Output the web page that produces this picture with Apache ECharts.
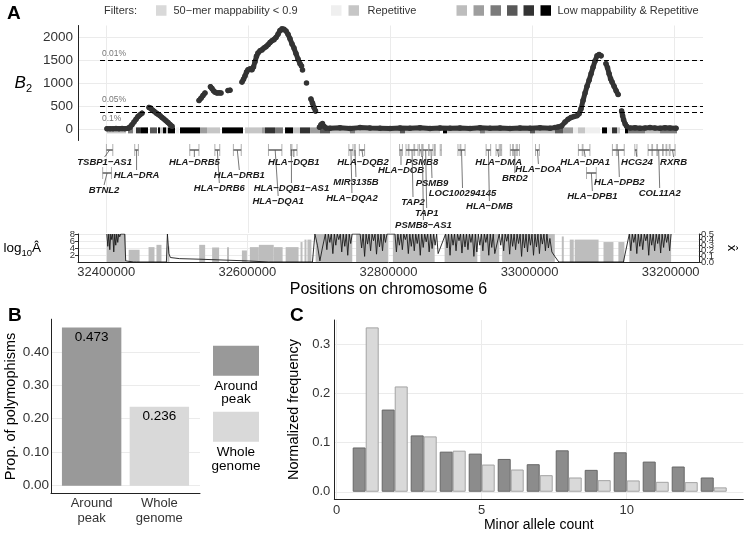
<!DOCTYPE html>
<html><head><meta charset="utf-8">
<script src="https://cdn.jsdelivr.net/npm/echarts@6/dist/echarts.min.js"></script>
<style>html,body{margin:0;padding:0;background:#fff}#c{width:746px;height:533px}</style>
</head><body><div id="c"></div>
<script>
// ---------------- data ----------------
const posTicks = [32400000, 32600000, 32800000, 33000000, 33200000];
const b2Ticks = [0, 500, 1000, 1500, 2000];
const thresholdValues = [1500, 500, 360];
const thresholdLabels = ['0.01%', '0.05%', '0.1%'];
// B2 statistic along chromosome 6 ('-' marks a gap between runs of points)
const b2Points = [
 [32400800,5],[32405100,8],[32409300,3],[32413500,10],[32417700,6],[32422000,12],[32426200,8],[32430400,15],[32433200,30],[32436000,90],[32438800,150],[32441700,210],[32444500,270],[32447300,310],[32450100,345],[32455000,'-'],
 [32460000,470],[32462100,455],[32464300,420],[32467100,385],[32469900,350],[32472600,320],[32475500,290],[32478300,250],[32481100,215],[32483900,180],[32486700,140],[32489500,100],[32492400,60],[32500000,'-'],
 [32530400,620],[32533200,670],[32536000,730],[32538800,780],[32542000,'-'],
 [32546500,920],[32548700,880],[32550800,830],[32552900,800],[32555700,780],[32558500,790],[32561300,780],[32565000,'-'],
 [32571200,835],[32574000,845],[32580000,'-'],
 [32590900,1020],[32593000,1080],[32595100,1150],[32597300,1240],[32599400,1290],[32602200,1310],[32605000,1290],[32607100,1350],[32609200,1460],[32611300,1580],[32613400,1650],[32616300,1700],[32619100,1720],[32621900,1760],[32624700,1790],[32627500,1830],[32630300,1880],[32633200,1920],[32636000,1940],[32638800,1990],[32641600,2060],[32644400,2140],[32647200,2180],[32650000,2170],[32652900,2130],[32655700,2060],[32658500,1960],[32661300,1850],[32664100,1760],[32666900,1640],[32669800,1520],[32672600,1420],[32674700,1370],[32675400,'-'],
 [32676100,1280],[32679000,'-'],
 [32681700,1000],[32685000,'-'],
 [32688000,650],[32690200,560],[32692300,470],[32694400,390],[32697000,'-'],
 [32700000,40],[32702100,90],[32704200,120],[32706300,60],[32709200,20],[32714800,15],[32728900,25],[32743000,10],[32757100,30],[32771100,20],[32785200,15],[32799300,10],[32813400,20],[32827400,15],[32841500,25],[32855600,10],[32869700,20],[32883800,15],[32897800,20],[32911900,10],[32926000,25],[32940100,15],[32954200,20],[32968200,10],[32982300,20],[32996400,15],[33010500,25],[33024600,15],[33031600,30],[33035800,45],[33040800,65],[33045700,150],[33050000,210],[33054200,250],[33058400,270],[33062600,290],[33065500,330],[33068300,440],[33071100,620],[33073900,780],[33076700,930],[33079600,1060],[33082400,1200],[33085200,1340],[33088000,1480],[33090800,1590],[33093700,1620],[33096500,1590],[33100000,'-'],
 [33103400,1420],[33105600,1330],[33107800,1200],[33109900,1090],[33112000,1020],[33114800,930],[33117700,830],[33120500,750],[33123000,'-'],
 [33125400,390],[33126800,290],[33128200,200],[33130400,110],[33132500,60],[33135000,'-'],
 [33137200,20],[33144300,25],[33151300,15],[33158300,20],[33165400,30],[33172400,20],[33179500,15],[33186500,25],[33193500,20],[33202000,15]
];
// filter mask below the B2 track: [start, end, filter class]
const filterBand = [
 [32400800,32427600,2],[32430400,32437400,5],[32437400,32441700,1],[32441700,32448700,7],[32448700,32458600,8],
 [32461400,32471200,6],[32472600,32475500,8],[32475500,32479700,2],[32479700,32483900,8],[32483900,32486700,3],
 [32486700,32496600,8],[32497900,32502200,1],[32503600,32531800,8],[32531800,32541600,4],[32541600,32560000,2],
 [32562800,32592300,8],[32595100,32619100,2],[32619100,32623300,4],[32623300,32637400,7],[32637400,32648600,5],
 [32651500,32662700,8],[32662700,32672600,2],[32672600,32686700,7],[32686700,32700700,4],[32700700,32714800,6],
 [32714800,32743000,2],[32743000,32750000,5],[32750000,32785200,2],[32785200,32813400,3],[32813400,32820400,6],
 [32820400,32869700,2],[32873900,32879600,8],[32879600,32926000,2],[32926000,32933000,5],[32933000,32996400,3],
 [32996400,33003500,6],[33003500,33031600,3],[33031600,33042900,6],[33042900,33057000,4],[33057000,33064000,1],
 [33064000,33073900,2],[33073900,33095000,1],[33097800,33104800,8],[33104800,33111900,1],[33111900,33118900,7],
 [33118900,33123100,2],[33130200,33134400,8],[33134400,33158400,5],[33158400,33179500,3],[33179500,33203400,5]
];
const filterClassColors = ['#d9d9d9','#efefef','#c6c6c6','#bdbdbd','#9e9e9e','#7b7b7b','#585858','#333333','#000000'];
const filterLegendGroups = ['50\u2212mer mappability < 0.9', 'Repetitive', 'Low mappability & Repetitive'];

// genes
const geneNames = ['TSBP1\u2212AS1','BTNL2','HLA\u2212DRA','HLA\u2212DRB5','HLA\u2212DRB6','HLA\u2212DRB1','HLA\u2212DQA1','HLA\u2212DQB1','HLA\u2212DQB1\u2212AS1','HLA\u2212DQA2','MIR3135B','HLA\u2212DQB2','HLA\u2212DOB','TAP2','PSMB8','PSMB8\u2212AS1','TAP1','PSMB9','LOC100294145','HLA\u2212DMB','HLA\u2212DMA','BRD2','HLA\u2212DOA','HLA\u2212DPA1','HLA\u2212DPB1','HLA\u2212DPB2','HCG24','COL11A2','RXRB'];
const geneStart = [32400000,32394730,32439878,32517353,32552713,32578775,32628179,32659467,32659880,32741391,32749900,32756098,32812763,32821833,32840717,32844100,32845209,32854192,32895000,32934629,32948613,32968660,33004182,33064569,33075990,33112455,33144000,33162681,33193586];
const geneEnd   = [32409000,32407130,32445046,32530287,32559600,32589848,32647062,32668383,32661200,32747198,32750000,32763532,32816767,32838739,32844679,32845800,32853816,32859851,32905000,32941028,32953122,32981505,33009591,33080775,33089696,33129113,33147000,33192499,33200719];
const otherGenes = [[32825000,32826000],[32833000,32834000],[32862000,32863000],[32870000,32871500],[32898000,32899000],[32955000,32956500],[32972000,32973000],[32977000,32978500],[33070000,33071000],[33118000,33119500],[33168000,33169000],[33175000,33176000],[33183000,33184000],[33188000,33189000]];
// label layout (track row of the gene body, label offset below track top, horizontal nudge)
const geneRow    = [0,1,0,0,0,0,0,0,0,0,0,0,0,0,0,0,0,0,0,0,0,0,0,0,1,0,0,0,0];
const geneLabelY = [26,54,39,26,52,39,65,26,52,62,46,26,34,66,26,89,77,47,57,70,26,42,33,26,60,46,26,57,26];
const geneLabelDx= [-5,-3,0,0,2,2,3,0,0,1,1,1,0,1,1,1,1,1,1,1,1,0,1,1,1,1,1,1,1];

// log10 A-hat blocks [start, end, value] and x-hat line
const logATicks = [2, 4, 6, 8];
const logABlocks = [
 [32400800,32427600,8],[32431800,32447300,3.5],[32460000,32468400,4.25],[32471200,32478300,4.9],[32486700,32489500,4.45],
 [32531800,32540200,4.9],[32550100,32560000,4.15],[32571200,32574000,4.25],[32592300,32599400,3.3],[32603600,32616300,4.25],
 [32616300,32637400,4.9],[32637400,32650000,4.25],[32654300,32672600,4.25],[32675400,32678200,5.7],[32681000,32683800,6.4],
 [32685200,32690800,6.4],[32696800,32748700,8],[32754200,32799300,8],[32806300,32865500,8],[32879600,32926000,8],
 [32930200,32957000,8],[32961200,33035800,8],[33045700,33048500,7.3],[33057000,33062600,6.4],[33064000,33097800,6.4],
 [33104800,33118900,5.7],[33125900,33134400,5.7],[33141400,33200600,8]
];
const xhatTicks = [0, 0.1, 0.2, 0.3, 0.4, 0.5];
const xhatPoints = [
 [32400832,0.5],[32402240,0.28],[32403648,0.5],[32405056,0.22],[32406464,0.5],[32407872,0.4],[32409280,0.5],[32410688,0.18],[32412096,0.5],[32413504,0.3],[32414912,0.5],[32416320,0.35],[32417728,0.5],[32419136,0.45],[32420544,0.5],[32423360,0.5],[32426176,0.5],[32427584,0.02],[32429696,0],
 [32438848,0],[32440960,0.03],[32443072,0],[32485312,0],[32486720,0.5],[32488832,0.15],[32490944,0.08],[32503616,0.06],[32531776,0.05],[32599360,0.02],[32630336,0],[32692288,0],[32695808,0.5],[32699328,0.3],[32702848,0.02],[32706368,0.25],
 [32710600,0.5],[32712700,0.22],[32714800,0.5],[32716900,0.35],[32719000,0.5],[32721200,0.15],[32723300,0.5],[32725400,0.3],[32727500,0.5],[32729600,0.4],[32731700,0.5],[32733800,0.18],[32735900,0.5],[32738100,0.28],[32740200,0.5],[32742300,0.12],[32744400,0.5],[32746500,0.33],[32748600,0.5],
 [32759900,0.5],[32762000,0.25],[32764100,0.5],[32766200,0.1],[32768300,0.5],[32770400,0.32],[32772500,0.5],[32774700,0.2],[32776800,0.5],[32778900,0.38],[32781000,0.5],[32783100,0.14],[32785200,0.5],[32787300,0.27],[32789400,0.5],[32791600,0.2],[32793700,0.5],[32795800,0.35],[32797900,0.5],
 [32809200,0.5],[32811300,0.18],[32813400,0.5],[32815500,0.3],[32817600,0.5],[32819700,0.22],[32821800,0.5],[32824000,0.4],[32826100,0.5],[32828200,0.15],[32830300,0.5],[32832400,0.28],[32834500,0.5],[32836600,0.2],[32838700,0.5],[32840800,0.33],[32842900,0.5],[32845100,0.12],[32847200,0.5],[32849300,0.26],[32851400,0.5],[32853500,0.36],[32855600,0.5],[32857700,0.18],[32859800,0.5],[32861900,0.24],[32864100,0.5],[32866200,0.3],[32868300,0.5],[32870400,0.15],
 [32881000,0.5],[32883100,0.25],[32885200,0.5],[32887300,0.12],[32889400,0.5],[32891600,0.3],[32893700,0.5],[32895800,0.2],[32897900,0.5],[32900000,0.38],[32902100,0.5],[32904200,0.16],[32906300,0.5],[32908500,0.27],[32910600,0.5],[32912700,0.22],[32914800,0.5],[32916900,0.35],[32919000,0.5],[32921100,0.1],[32923200,0.5],[32925300,0.18],[32927400,0.5],[32929500,0.3],[32931700,0.5],[32933800,0.2],[32935900,0.5],[32938000,0.35],[32940100,0.5],[32942200,0.12],[32944300,0.5],[32946400,0.26],[32948500,0.5],[32950700,0.15],
 [32957000,0.5],[32959100,0.3],[32961200,0.5],[32963300,0.2],[32965400,0.5],[32967600,0.37],[32969700,0.5],[32971800,0.14],[32973900,0.5],[32976000,0.28],[32978100,0.5],[32980200,0.22],[32982300,0.5],[32984400,0.33],[32986600,0.5],[32988700,0.1],[32990800,0.5],[32992900,0.25],[32995000,0.5],[32997100,0.18],[32999200,0.5],[33001300,0.3],[33003500,0.5],[33005600,0.12],[33007700,0.5],[33009800,0.27],[33011900,0.5],[33014000,0.15],[33016100,0.5],[33018200,0.32],[33020400,0.5],[33022500,0.2],[33024600,0.5],[33026700,0.25],[33028800,0.42],[33031600,0.18],[33035800,0.1],[33041500,0],[33133000,0],
 [33141400,0.5],[33143500,0.2],[33145600,0.5],[33147700,0.35],[33149900,0.5],[33152000,0.15],[33154100,0.5],[33156200,0.28],[33158300,0.5],[33160400,0.22],[33162600,0.5],[33164700,0.38],[33166800,0.5],[33168900,0.12],[33171000,0.5],[33173100,0.3],[33175200,0.5],[33177300,0.2],[33179500,0.5],[33181600,0.33],[33183700,0.5],[33185800,0.16],[33187900,0.5],[33190000,0.26],[33192100,0.5],[33194300,0.35],[33196400,0.5],[33198500,0.2],[33200600,0.5]
];

// panel B
const propCategories = ['Around\npeak', 'Whole\ngenome'];
const propValues = [0.473, 0.236];
const propTicks = [0, 0.1, 0.2, 0.3, 0.4];
// panel C
const macCounts = [1,2,3,4,5,6,7,8,9,10,11,12,13];
const aroundPeakFreq = [0.090,0.167,0.1145,0.0815,0.0775,0.0667,0.056,0.0842,0.0445,0.0802,0.0613,0.0513,0.029];
const wholeGenomeFreq = [0.334,0.214,0.1125,0.0835,0.0553,0.0452,0.0337,0.029,0.0236,0.023,0.0202,0.0196,0.0089];
const freqTicks = [0, 0.1, 0.2, 0.3];
const macTicks = [0, 5, 10];

// ---------------- chart ----------------
const FF = '"Liberation Sans", Arial, sans-serif';
const XMIN = 32360000, XMAX = 33240000;
const gridLine = {show: true, lineStyle: {color: '#ebebeb', width: 1}};
const axLine = {show: true, onZero: false, lineStyle: {color: '#222', width: 1}};
const tickLbl = {color: '#333', fontFamily: FF, showMinLabel: true, showMaxLabel: true, hideOverlap: false, interval: 0};
const plain = v => String(v);
const DARK = '#999999', LIGHT = '#d9d9d9';
// the crowded tick labels of the bottom track are spread over several stacked axes
const pick = (arr, start, step) => arr.filter((v, k) => k >= start && (k - start) % step === 0);

const chart = echarts.init(document.getElementById('c'), null, {renderer: 'canvas', width: 746, height: 533});

const ROW_Y = [14, 37];
function renderGene(params, api) {
  const i = api.value(2);
  const cs = params.coordSys;
  const xa = api.coord([api.value(0), 0])[0];
  const xb = api.coord([api.value(1), 0])[0];
  const gy = cs.y + ROW_Y[geneRow[i]];
  const xm = (xa + xb) / 2;
  const lx = xm + geneLabelDx[i];
  const ly = cs.y + geneLabelY[i];
  return {type: 'group', children: [
    {type: 'line', shape: {x1: xa, y1: gy - 6, x2: xa, y2: gy + 6}, style: {stroke: '#b0b0b0', lineWidth: 1}},
    {type: 'line', shape: {x1: xb, y1: gy - 6, x2: xb, y2: gy + 6}, style: {stroke: '#b0b0b0', lineWidth: 1}},
    {type: 'line', shape: {x1: xa, y1: gy, x2: xb, y2: gy}, style: {stroke: '#6b6b6b', lineWidth: 1.6}},
    {type: 'line', shape: {x1: xm, y1: gy, x2: lx, y2: ly - 5}, style: {stroke: '#555', lineWidth: 0.8}},
    {type: 'text', x: lx, y: ly, style: {text: geneNames[i], fill: '#1a1a1a', font: 'italic bold 9.5px ' + FF, align: 'center', verticalAlign: 'middle'}}
  ]};
}
function renderOtherGene(params, api) {
  const cs = params.coordSys;
  const xa = api.coord([api.value(0), 0])[0];
  const xb = api.coord([api.value(1), 0])[0];
  const gy = cs.y + ROW_Y[0];
  return {type: 'group', children: [
    {type: 'line', shape: {x1: xa, y1: gy - 6, x2: xa, y2: gy + 6}, style: {stroke: '#b0b0b0', lineWidth: 1}},
    {type: 'line', shape: {x1: xb, y1: gy - 6, x2: xb, y2: gy + 6}, style: {stroke: '#b0b0b0', lineWidth: 1}},
    {type: 'line', shape: {x1: xa, y1: gy, x2: xb, y2: gy}, style: {stroke: '#8a8a8a', lineWidth: 1.2}}
  ]};
}
const BAND_TOP = 35, BAND_BOTTOM = -95;
function renderBand(params, api) {
  const p0 = api.coord([api.value(0), BAND_TOP]);
  const p1 = api.coord([api.value(1), BAND_BOTTOM]);
  return {type: 'rect', shape: {x: p0[0], y: p0[1], width: Math.max(p1[0] - p0[0], 0.8), height: p1[1] - p0[1]}, style: {fill: filterClassColors[api.value(2)]}};
}
function renderBlock(params, api) {
  const p0 = api.coord([api.value(0), api.value(2)]);
  const p1 = api.coord([api.value(1), 0]);
  return {type: 'rect', shape: {x: p0[0], y: p0[1], width: Math.max(p1[0] - p0[0], 0.8), height: p1[1] - p0[1]}, style: {fill: '#bdbdbd'}};
}

const markLineData = thresholdValues.map((v, k) => [
  {coord: [32391000, v], label: {formatter: thresholdLabels[k], position: k === 2 ? 'insideStartBottom' : 'insideStartTop'}},
  {coord: [XMAX, v]}
]);

// legend graphics
const graphics = [];
function addText(x, y, text, font, align, fill) {
  graphics.push({type: 'text', x: x, y: y, silent: true, style: {text: text, font: font, fill: fill || '#000', align: align || 'left', verticalAlign: 'middle'}});
}
function addRect(x, y, w, h, c) {
  graphics.push({type: 'rect', silent: true, shape: {x: x, y: y, width: w, height: h}, style: {fill: c}});
}
addText(7, 14, 'A', 'bold 19px ' + FF);
addText(8, 315.5, 'B', 'bold 19px ' + FF);
addText(290, 315.5, 'C', 'bold 19px ' + FF);
const LY = 10.5, LF = '11px ' + FF;
addText(104, LY, 'Filters:', LF, 'left', '#333');
addRect(156, LY - 5.25, 10.5, 10.5, filterClassColors[0]);
addText(173.5, LY, filterLegendGroups[0], LF, 'left', '#333');
addRect(331, LY - 5.25, 10.5, 10.5, filterClassColors[1]);
addRect(348.5, LY - 5.25, 10.5, 10.5, filterClassColors[2]);
addText(367.5, LY, filterLegendGroups[1], LF, 'left', '#333');
[456.5, 473.5, 490.5, 507, 523.5, 540.5].forEach((x, k) => addRect(x, LY - 5.25, 10.5, 10.5, filterClassColors[3 + k]));
addText(557.5, LY, filterLegendGroups[2], LF, 'left', '#333');
// panel B/C legend
addRect(213, 345.7, 46, 30, DARK);
graphics.push({type: 'text', x: 236, y: 379.5, silent: true, style: {text: 'Around\npeak', font: '13.5px ' + FF, fill: '#000', align: 'center', verticalAlign: 'top', lineHeight: 13.3}});
addRect(213, 411.7, 46, 30, LIGHT);
graphics.push({type: 'text', x: 236, y: 446, silent: true, style: {text: 'Whole\ngenome', font: '13.5px ' + FF, fill: '#000', align: 'center', verticalAlign: 'top', lineHeight: 13.3}});

const posAxisHidden = (g) => ({gridIndex: g, type: 'value', min: XMIN, max: XMAX,
  axisLine: {show: false}, axisTick: {show: false, customValues: posTicks}, axisLabel: {show: false, customValues: posTicks}, splitLine: gridLine});

function logAxis(vals, withName) {
  const ax = {gridIndex: 2, type: 'value', position: 'left', offset: 0, min: 0, max: 8,
    axisLine: withName ? axLine : {show: false},
    axisTick: {show: true, length: 3, customValues: vals, lineStyle: {color: '#333'}},
    axisLabel: Object.assign({customValues: vals, formatter: plain, fontSize: 9.5, margin: 3}, tickLbl),
    splitLine: gridLine};
  if (withName) Object.assign(ax, {name: '{a|log}{s|10}{a|\u00c2}', nameLocation: 'middle', nameRotate: 0, nameGap: 37,
    nameTextStyle: {rich: {a: {fontSize: 13.5, color: '#000', lineHeight: 20, fontFamily: FF}, s: {fontSize: 9.5, color: '#000', verticalAlign: 'bottom', lineHeight: 11, fontFamily: FF}}}});
  return ax;
}
function xhatAxis(vals, withName) {
  const ax = {gridIndex: 2, type: 'value', position: 'right', offset: 0, min: 0, max: 0.5,
    axisLine: withName ? axLine : {show: false},
    axisTick: {show: true, length: 3, customValues: vals, lineStyle: {color: '#333'}},
    axisLabel: Object.assign({customValues: vals, formatter: v => v.toFixed(1), fontSize: 9.5, margin: 2}, tickLbl),
    splitLine: {show: false}};
  if (withName) Object.assign(ax, {name: 'x\u0302', nameLocation: 'middle', nameRotate: -90, nameGap: 26,
    nameTextStyle: {fontSize: 13, color: '#000', fontFamily: FF}});
  return ax;
}

const option = {
  animation: false,
  backgroundColor: '#fff',
  textStyle: {fontFamily: FF},
  graphic: graphics,
  grid: [
    {left: 78, top: 25.5, width: 625, height: 115},
    {left: 78, top: 136, width: 625, height: 97},
    {left: 78, top: 234, width: 625, height: 28},
    {left: 51, top: 319.2, width: 149, height: 174.4},
    {left: 334.3, top: 320, width: 409, height: 180}
  ],
  xAxis: [
    posAxisHidden(0),
    posAxisHidden(1),
    {gridIndex: 2, type: 'value', min: XMIN, max: XMAX, axisLine: axLine,
      axisTick: {show: false, customValues: posTicks},
      axisLabel: Object.assign({customValues: posTicks, formatter: plain, fontSize: 13, margin: 4}, tickLbl),
      splitLine: gridLine,
      name: 'Positions on chromosome 6', nameLocation: 'middle', nameGap: 20,
      nameTextStyle: {fontSize: 16, color: '#000', fontFamily: FF}},
    {gridIndex: 3, type: 'value', min: 0.4, max: 2.6, axisLine: axLine,
      axisTick: {show: false, customValues: [1, 2]},
      axisLabel: Object.assign({customValues: [1, 2], formatter: v => propCategories[Math.round(v) - 1], fontSize: 13, lineHeight: 14.5, margin: 3}, tickLbl),
      splitLine: {show: false}},
    {gridIndex: 4, type: 'value', min: -0.083, max: 14.02, axisLine: axLine,
      axisTick: {show: false, customValues: macTicks},
      axisLabel: Object.assign({customValues: macTicks, formatter: plain, fontSize: 13, margin: 5}, tickLbl),
      splitLine: gridLine,
      name: 'Minor allele count', nameLocation: 'middle', nameGap: 19,
      nameTextStyle: {fontSize: 14, color: '#000', fontFamily: FF}}
  ],
  yAxis: [
    {gridIndex: 0, type: 'value', min: -250, max: 2250, axisLine: axLine,
      axisTick: {show: false, customValues: b2Ticks},
      axisLabel: Object.assign({customValues: b2Ticks, formatter: plain, fontSize: 13.5, margin: 5}, tickLbl),
      splitLine: gridLine,
      name: '{b|B}{s|2}', nameLocation: 'middle', nameRotate: 0, nameGap: 46,
      nameTextStyle: {rich: {b: {fontSize: 17, fontStyle: 'italic', color: '#000', lineHeight: 22, fontFamily: FF}, s: {fontSize: 11, color: '#000', verticalAlign: 'bottom', lineHeight: 12, fontFamily: FF}}}},
    {gridIndex: 1, type: 'value', min: 0, max: 97, show: false},
    logAxis(pick(logATicks, 0, 2), true),
    xhatAxis(pick(xhatTicks, 0, 3), true),
    {gridIndex: 3, type: 'value', min: -0.0237, max: 0.4975, axisLine: axLine,
      axisTick: {show: false, customValues: propTicks},
      axisLabel: Object.assign({customValues: propTicks, formatter: v => v.toFixed(2), fontSize: 13.5, margin: 2}, tickLbl),
      splitLine: gridLine,
      name: 'Prop. of polymophisms', nameLocation: 'middle', nameGap: 31,
      nameTextStyle: {fontSize: 14.5, color: '#000', fontFamily: FF}},
    {gridIndex: 4, type: 'value', min: -0.0147, max: 0.349, axisLine: axLine,
      axisTick: {show: false, customValues: freqTicks},
      axisLabel: Object.assign({customValues: freqTicks, formatter: v => v.toFixed(1), fontSize: 13, margin: 4}, tickLbl),
      splitLine: gridLine,
      name: 'Normalized frequency', nameLocation: 'middle', nameGap: 24,
      nameTextStyle: {fontSize: 14.5, color: '#000', fontFamily: FF}},
    logAxis(pick(logATicks, 1, 2), false),
    xhatAxis(pick(xhatTicks, 1, 3), false),
    xhatAxis(pick(xhatTicks, 2, 3), false)
  ],
  series: [
    {type: 'custom', name: 'filters', xAxisIndex: 0, yAxisIndex: 0, renderItem: renderBand, data: filterBand, z: 1, silent: true},
    {type: 'line', name: 'B2', xAxisIndex: 0, yAxisIndex: 0, data: b2Points, z: 3,
      connectNulls: false, symbol: 'circle', symbolSize: 5.5, showSymbol: true,
      itemStyle: {color: '#333'}, lineStyle: {color: '#333', width: 5, cap: 'round', join: 'round'},
      markLine: {silent: true, symbol: ['none', 'none'], lineStyle: {type: [5, 3], color: '#000', width: 1},
        label: {show: true, color: '#777', fontSize: 8.5, fontFamily: FF, distance: 2}, data: markLineData}},
    {type: 'custom', name: 'otherGenes', xAxisIndex: 1, yAxisIndex: 1, renderItem: renderOtherGene, data: otherGenes, silent: true},
    {type: 'custom', name: 'genes', xAxisIndex: 1, yAxisIndex: 1, renderItem: renderGene,
      data: geneNames.map((n, i) => [geneStart[i], geneEnd[i], i]), silent: true},
    {type: 'custom', name: 'log10A', xAxisIndex: 2, yAxisIndex: 2, renderItem: renderBlock, data: logABlocks, silent: true},
    {type: 'line', name: 'xhat', xAxisIndex: 2, yAxisIndex: 3, data: xhatPoints, showSymbol: false,
      lineStyle: {color: '#1a1a1a', width: 0.9}, z: 3},
    {type: 'bar', name: 'prop', xAxisIndex: 3, yAxisIndex: 4, barWidth: 59.4,
      data: propValues.map((v, i) => ({value: [i + 1, v], itemStyle: {color: i === 0 ? DARK : LIGHT}})),
      label: {show: true, position: 'insideTop', distance: 3, fontSize: 13.5, color: '#000', fontFamily: FF,
        formatter: p => p.value[1].toFixed(3)}},
    {type: 'bar', name: 'Around peak', xAxisIndex: 4, yAxisIndex: 5, barWidth: 13, barGap: '0%',
      data: macCounts.map((m, i) => [m, aroundPeakFreq[i]]),
      itemStyle: {color: '#8c8c8c', borderColor: '#676767', borderWidth: 1}},
    {type: 'bar', name: 'Whole genome', xAxisIndex: 4, yAxisIndex: 5, barWidth: 13, barGap: '0%',
      data: macCounts.map((m, i) => [m, wholeGenomeFreq[i]]),
      itemStyle: {color: LIGHT, borderColor: '#a3a3a3', borderWidth: 1}}
  ]
};
chart.setOption(option);
</script>
</body></html>
